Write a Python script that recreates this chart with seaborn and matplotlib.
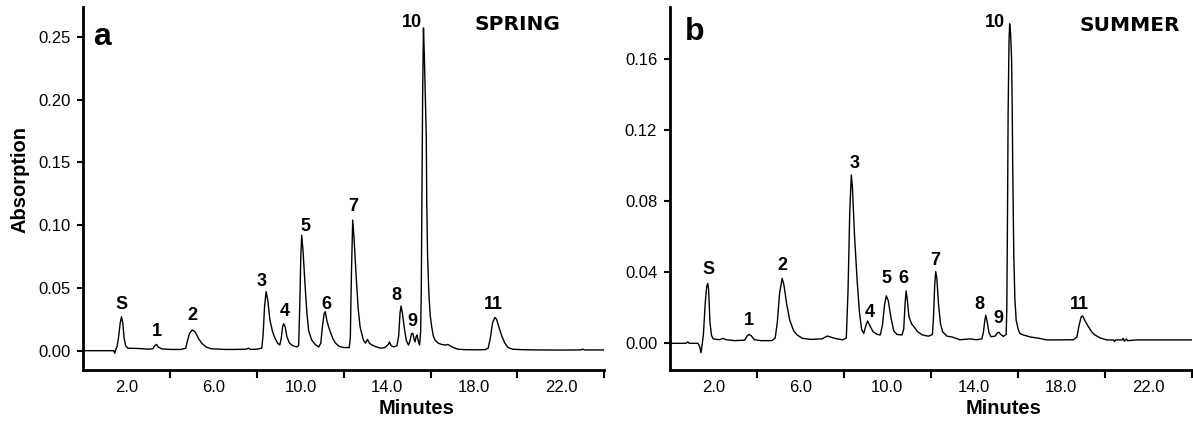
import matplotlib
matplotlib.use("Agg")
import matplotlib.pyplot as plt
import numpy as np
import pandas as pd
import seaborn as sns

# ---------------- data ----------------
spring_time = [0.0, 1.40, 1.45, 1.50, 1.55, 1.62, 1.70, 1.76, 1.82, 1.88, 1.95, 2.05, 2.5, 3.0, 3.2,
               3.30, 3.37, 3.45, 3.6, 4.0, 4.5, 4.72, 4.80, 4.90, 5.02, 5.15, 5.30, 5.45, 5.65, 5.9,
               6.5, 7.0, 7.5, 7.62, 7.7, 8.0, 8.22, 8.28, 8.35, 8.42, 8.50, 8.60, 8.72, 8.83, 8.95,
               9.05, 9.12, 9.18, 9.23, 9.30, 9.38, 9.50, 9.65, 9.83, 9.92, 9.97, 10.02, 10.06, 10.12,
               10.22, 10.30, 10.38, 10.52, 10.68, 10.85, 10.94, 11.02, 11.10, 11.15, 11.22, 11.30,
               11.40, 11.50, 11.62, 11.78, 12.0, 12.25, 12.30, 12.35, 12.41, 12.47, 12.57, 12.66,
               12.75, 12.90, 13.0, 13.09, 13.18, 13.30, 13.5, 13.7, 13.9, 14.05, 14.10, 14.18, 14.30,
               14.45, 14.53, 14.59, 14.64, 14.70, 14.78, 14.88, 14.98, 15.05, 15.12, 15.18, 15.24,
               15.28, 15.33, 15.37, 15.43, 15.49, 15.54, 15.57, 15.60, 15.63, 15.67, 15.71, 15.76,
               15.80, 15.82, 15.86, 15.92, 15.98, 16.05, 16.12, 16.20, 16.35, 16.50, 16.70, 16.80,
               16.90, 17.05, 17.25, 17.6, 18.0, 18.5, 18.65, 18.75, 18.85, 18.96, 19.04, 19.14,
               19.27, 19.42, 19.57, 19.77, 20.2, 21.0, 22.0, 22.9, 23.0, 23.1, 24.0]
spring_abs = [0.0, 0.0, -0.002, 0.001, 0.003, 0.010, 0.022, 0.027, 0.022, 0.010, 0.004, 0.002, 0.0018,
              0.0012, 0.0015, 0.004, 0.005, 0.003, 0.0015, 0.001, 0.001, 0.002, 0.008, 0.014, 0.0165,
              0.015, 0.010, 0.006, 0.003, 0.0015, 0.001, 0.001, 0.0012, 0.002, 0.001, 0.0012, 0.002,
              0.012, 0.035, 0.047, 0.040, 0.024, 0.015, 0.010, 0.006, 0.0045, 0.010, 0.019, 0.0215,
              0.019, 0.011, 0.006, 0.004, 0.003, 0.004, 0.035, 0.075, 0.092, 0.080, 0.051, 0.030,
              0.016, 0.0085, 0.005, 0.003, 0.006, 0.020, 0.030, 0.031, 0.024, 0.019, 0.014, 0.0095,
              0.006, 0.0035, 0.0025, 0.0025, 0.010, 0.060, 0.104, 0.090, 0.059, 0.034, 0.019, 0.0085,
              0.006, 0.009, 0.006, 0.0045, 0.003, 0.002, 0.0025, 0.005, 0.007, 0.004, 0.003, 0.004,
              0.012, 0.030, 0.0356, 0.030, 0.019, 0.008, 0.0045, 0.008, 0.0135, 0.0138, 0.009, 0.007,
              0.011, 0.0125, 0.008, 0.0045, 0.015, 0.05, 0.13, 0.20, 0.257, 0.235, 0.20, 0.17, 0.12,
              0.075, 0.045, 0.028, 0.019, 0.012, 0.0085, 0.006, 0.005, 0.0045, 0.005, 0.0038, 0.0025,
              0.0012, 0.0008, 0.0007, 0.0008, 0.002, 0.010, 0.022, 0.0265, 0.025, 0.019, 0.012, 0.006,
              0.0025, 0.0012, 0.0008, 0.0006, 0.0005, 0.0006, 0.0012, 0.0006, 0.0006]

summer_time = [0.0, 0.75, 0.83, 0.9, 1.3, 1.38, 1.44, 1.50, 1.55, 1.63, 1.70, 1.75, 1.79, 1.85, 1.92,
               2.0, 2.3, 2.45, 2.6, 3.0, 3.45, 3.55, 3.65, 3.75, 3.9, 4.2, 4.7, 4.85, 4.95, 5.05,
               5.17, 5.25, 5.38, 5.52, 5.70, 5.86, 6.1, 6.5, 7.0, 7.15, 7.25, 7.4, 7.6, 7.95, 8.12,
               8.20, 8.28, 8.35, 8.40, 8.50, 8.62, 8.72, 8.82, 8.92, 9.02, 9.10, 9.20, 9.35, 9.55,
               9.68, 9.78, 9.88, 9.96, 10.05, 10.18, 10.30, 10.45, 10.68, 10.76, 10.82, 10.87, 10.93,
               11.00, 11.12, 11.25, 11.40, 11.62, 11.9, 12.08, 12.13, 12.18, 12.23, 12.28, 12.36,
               12.45, 12.55, 12.75, 13.0, 13.35, 13.8, 14.1, 14.35, 14.42, 14.48, 14.53, 14.60, 14.68,
               14.77, 14.95, 15.08, 15.14, 15.22, 15.34, 15.47, 15.50, 15.53, 15.56, 15.60, 15.63,
               15.67, 15.72, 15.75, 15.77, 15.82, 15.87, 15.93, 16.02, 16.1, 16.26, 16.6, 17.0, 17.33,
               17.8, 18.56, 18.72, 18.82, 18.92, 18.99, 19.08, 19.25, 19.40, 19.55, 19.8, 20.09, 20.4,
               20.45, 20.5, 20.8, 20.85, 20.9, 21.0, 21.05, 21.5, 22.5, 24.0]
summer_abs = [0.0, 0.0, 0.0008, 0.0, 0.0, -0.002, -0.0053, 0.0, 0.005, 0.022, 0.032, 0.0338, 0.030,
              0.012, 0.0045, 0.0025, 0.002, 0.0028, 0.002, 0.0015, 0.0018, 0.004, 0.005, 0.0042,
              0.002, 0.0015, 0.0015, 0.003, 0.012, 0.028, 0.0366, 0.033, 0.022, 0.013, 0.007, 0.0047,
              0.0028, 0.0022, 0.0025, 0.0035, 0.0041, 0.0035, 0.0028, 0.0019, 0.003, 0.030, 0.075,
              0.0948, 0.088, 0.060, 0.035, 0.018, 0.008, 0.0055, 0.010, 0.0126, 0.010, 0.0065, 0.005,
              0.0047, 0.010, 0.022, 0.0267, 0.024, 0.014, 0.007, 0.005, 0.0047, 0.008, 0.022, 0.0295,
              0.024, 0.015, 0.011, 0.009, 0.0065, 0.0047, 0.0040, 0.005, 0.015, 0.032, 0.0404, 0.037,
              0.022, 0.011, 0.0065, 0.004, 0.0035, 0.002, 0.0025, 0.002, 0.0025, 0.006, 0.012, 0.0158,
              0.012, 0.006, 0.0037, 0.004, 0.006, 0.0062, 0.005, 0.0039, 0.005, 0.02, 0.07, 0.13,
              0.17, 0.18, 0.175, 0.16, 0.13, 0.10, 0.05, 0.025, 0.013, 0.008, 0.0055, 0.0047, 0.0035,
              0.0028, 0.0019, 0.0019, 0.002, 0.0035, 0.010, 0.0150, 0.0154, 0.013, 0.0094, 0.0065,
              0.0047, 0.003, 0.0019, 0.0019, 0.0010, 0.0019, 0.0019, 0.0028, 0.0012, 0.0025, 0.0015,
              0.0019, 0.0019, 0.0019]

peak_names = ["S", "1", "2", "3", "4", "5", "6", "7", "8", "9", "10", "11"]
spring_label_x = [1.77, 3.38, 5.02, 8.22, 9.26, 10.22, 11.22, 12.44, 14.41, 15.17, 15.15, 18.9]
spring_label_y = [0.0364, 0.0151, 0.0284, 0.055, 0.031, 0.0987, 0.0364, 0.1147, 0.0443, 0.0235, 0.261, 0.0364]
summer_label_x = [1.79, 3.66, 5.17, 8.49, 9.21, 9.98, 10.74, 12.23, 14.22, 15.11, 14.97, 18.83]
summer_label_y = [0.0417, 0.0127, 0.0441, 0.1014, 0.0175, 0.0366, 0.0366, 0.0464, 0.022, 0.0141, 0.1807, 0.0216]

x_label_ticks = [2.0, 6.0, 10.0, 14.0, 18.0, 22.0]
x_mark_ticks = [4.0, 8.0, 12.0, 16.0, 20.0, 24.0]
spring_yticks = [0.00, 0.05, 0.10, 0.15, 0.20, 0.25]
summer_yticks = [0.00, 0.04, 0.08, 0.12, 0.16]

# ---------------- style ----------------
sns.set_style("ticks")
plt.rcParams["font.family"] = ["Liberation Sans", "DejaVu Sans"]
plt.rcParams["text.color"] = "black"
plt.rcParams["axes.labelcolor"] = "black"
plt.rcParams["xtick.color"] = "black"
plt.rcParams["ytick.color"] = "black"
plt.rcParams["axes.edgecolor"] = "black"

W, H = 1193, 424
fig = plt.figure(figsize=(W / 100, H / 100), dpi=100)
fig.patch.set_facecolor("white")

axA = fig.add_axes([83.3 / W, 1 - 370 / H, 521 / W, (370 - 6.7) / H])
axB = fig.add_axes([669.7 / W, 1 - 370 / H, 522 / W, (370 - 7.3) / H])

panels = [
    (axA, spring_time, spring_abs, spring_label_x, spring_label_y, spring_yticks,
     (-0.01537, 0.2739), "a", "SPRING", (0.036, 0.917), (0.834, 0.951), True),
    (axB, summer_time, summer_abs, summer_label_x, summer_label_y, summer_yticks,
     (-0.01504, 0.1893), "b", "SUMMER", (0.0475, 0.932), (0.882, 0.950), False),
]

for ax, t, a, lx, ly, yt, ylim, letter, season, letter_pos, season_pos, show_ylabel in panels:
    df = pd.DataFrame({"Minutes": t, "Absorption": a})
    sns.lineplot(data=df, x="Minutes", y="Absorption", ax=ax, color="black",
                 linewidth=1.0, estimator=None, sort=False)
    ax.set_xlim(0, 24)
    ax.set_ylim(*ylim)
    ax.set_facecolor("white")
    for side in ["top", "right"]:
        ax.spines[side].set_visible(False)
    for side in ["left", "bottom"]:
        ax.spines[side].set_linewidth(2.0)
        ax.spines[side].set_color("black")

    ax.set_xticks(x_label_ticks)
    ax.set_xticklabels([f"{v:.1f}" for v in x_label_ticks])
    ax.set_xticks(x_mark_ticks, minor=True)
    ax.tick_params(axis="x", which="major", length=0, pad=7.5, labelsize=12,
                   colors="black", labelcolor="black")
    ax.tick_params(axis="x", which="minor", length=6, width=1.5, direction="out", color="black")
    ax.set_yticks(yt)
    ax.set_yticklabels([f"{v:.2f}" for v in yt])
    ax.tick_params(axis="y", which="major", length=4, width=1.5, direction="out",
                   pad=5, labelsize=12, colors="black", labelcolor="black")

    ax.set_xlabel("Minutes", fontsize=14.5, fontweight="bold", color="black")
    ax.xaxis.set_label_coords(0.639, -0.106)
    ax.xaxis.label.set_va("center")
    if show_ylabel:
        ax.set_ylabel("Absorption", fontsize=14.5, fontweight="bold", color="black")
        ax.yaxis.set_label_coords(-0.1215, 0.523)
        ax.yaxis.label.set_va("center")
    else:
        ax.set_ylabel("")

    for name, x, y in zip(peak_names, lx, ly):
        ax.text(x, y, name, ha="center", va="center", fontsize=13, fontweight="bold",
                color="black")

    ax.text(letter_pos[0], letter_pos[1], letter, transform=ax.transAxes, ha="center",
            va="center", fontsize=23, fontweight="bold", color="black")
    ax.text(season_pos[0], season_pos[1], season, transform=ax.transAxes, ha="center",
            va="center", fontsize=14.5, fontweight="bold", family=["DejaVu Sans"],
            color="black")

fig.savefig("out.png", dpi=100, facecolor="white")
